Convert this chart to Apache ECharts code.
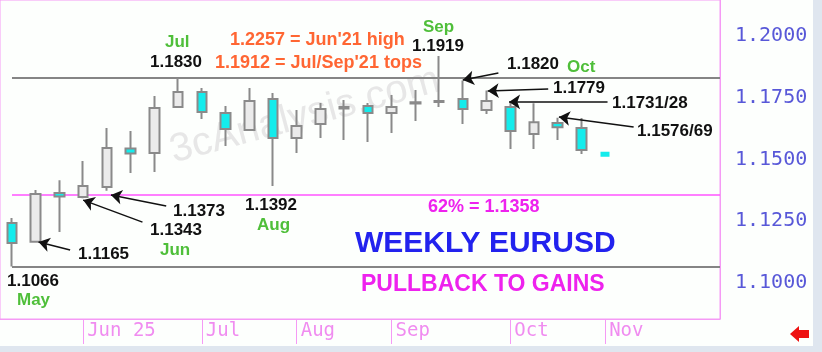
<!DOCTYPE html>
<html><head><meta charset="utf-8">
<script src="https://cdn.jsdelivr.net/npm/echarts@6/dist/echarts.min.js"></script>
<style>html,body{margin:0;padding:0;background:#fdfffd;}#c{width:822px;height:352px;}</style>
</head><body><div id="c"></div>
<script>
// Weekly candles (week start), 2025
const weeks = ['May 12','May 19','May 26','Jun 2','Jun 9','Jun 16','Jun 23','Jun 30','Jul 7','Jul 14','Jul 21','Jul 28','Aug 4','Aug 11','Aug 18','Aug 25','Sep 1','Sep 8','Sep 15','Sep 22','Sep 29','Oct 6','Oct 13','Oct 20','Oct 27','Nov 3'];
const openV  = [1.1242,1.1166,1.1364,1.1348,1.1388,1.1544,1.1526,1.1712,1.1773,1.1688,1.1619,1.1745,1.1587,1.1643,1.1706,1.1716,1.1688,1.1727,1.1733,1.1745,1.1700,1.1712,1.1603,1.1648,1.1627,1.1531];
const closeV = [1.1161,1.1360,1.1350,1.1392,1.1546,1.1524,1.1708,1.1773,1.1692,1.1623,1.1737,1.1587,1.1635,1.1704,1.1712,1.1688,1.1712,1.1732,1.1737,1.1704,1.1737,1.1615,1.1651,1.1630,1.1538,1.1511];
const lowV   = [1.1066,1.1165,1.1206,1.1343,1.1373,1.1445,1.1449,1.1710,1.1664,1.1554,1.1615,1.1392,1.1526,1.1587,1.1579,1.1571,1.1607,1.1656,1.1712,1.1643,1.1684,1.1542,1.1542,1.1579,1.1522,1.1511];
const highV  = [1.1263,1.1376,1.1416,1.1494,1.1627,1.1615,1.1757,1.1830,1.1789,1.1716,1.1789,1.1769,1.1700,1.1729,1.1741,1.1729,1.1761,1.1781,1.1919,1.1820,1.1779,1.1731,1.1728,1.1669,1.1668,1.1546];
// month ticks (index of first week starting in month)
const monthTickIdx = [3,8,12,16,21,25];
const monthTickLabels = ['Jun 25','Jul','Aug','Sep','Oct','Nov'];
const priceTicks = [1.1000,1.1250,1.1500,1.1750,1.2000];
// horizontal levels
const resistance = 1.1830, support = 1.1066, fib62 = 1.1358;

const X_MIN = -0.505, X_MAX = 29.84;
const cyan = '#14ecec', grey = '#8a8a8a', pink = '#f59af5';

const candleData = weeks.map((w,i)=>{
  const item = {value:[i, openV[i], closeV[i], lowV[i], highV[i]]};
  if (i === weeks.length-1) item.itemStyle = {color0: cyan, borderColor0: cyan, borderWidth: 0};
  return item;
});

// arrows: target candle + field, tip offset and tail offset (layout, in axis units)
const arrows = [
  {i:1,  f:'low',  tip:[0.12, 0],      tail:[1.45,-0.0032]},
  {i:3,  f:'low',  tip:[0.0,-0.0008],  tail:[2.5,-0.0097]},
  {i:4,  f:'low',  tip:[0.17,-0.0017], tail:[2.5,-0.0062]},
  {i:19, f:'high', tip:[0.0, 0.0002],  tail:[1.5, 0.0030]},
  {i:20, f:'high', tip:[0.05,-0.0002], tail:[2.6, 0.0006]},
  {i:21, f:'high', tip:[-0.05,0.0002], tail:[4.1, 0.0002]},
  {i:23, f:'high', tip:[0.05, 0.0003], tail:[3.2,-0.0038]}
];
const arrowLines = arrows.map(a=>{
  const v = a.f==='low' ? lowV[a.i] : highV[a.i];
  return [{coord:[a.i+a.tail[0], v+a.tail[1]]},{coord:[a.i+a.tip[0], v+a.tip[1]]}];
});

function txt(x,y,text,color,size,extra){
  return Object.assign({type:'text', x:x, y:y, z:100, style:{text:text, fill:color, font:'bold '+size+'px "Liberation Sans", Arial, sans-serif', textVerticalAlign:'middle'}}, extra||{});
}
const black='#111111', green='#4fbf3a', orange='#ff6633', magenta='#ee22ee';

const chart = echarts.init(document.getElementById('c'), null, {renderer:'canvas'});
chart.setOption({
  animation:false,
  backgroundColor:'#fdfffd',
  grid:{left:-1, right:102, top:0, bottom:33, show:true, borderColor:pink, borderWidth:1, backgroundColor:'transparent'},
  xAxis:{type:'value', min:X_MIN, max:X_MAX, splitLine:{show:false},
    axisLine:{show:true, onZero:false, lineStyle:{color:pink, width:1}},
    axisTick:{show:true, customValues:monthTickIdx, length:25, lineStyle:{color:pink, width:1}},
    axisLabel:{show:true, customValues:monthTickIdx, align:'left', margin:3, padding:[0,0,0,4],
      color:'#f08cf0', fontFamily:'"DejaVu Sans Mono", monospace', fontSize:19,
      formatter:(v)=>{const k=monthTickIdx.indexOf(Math.round(v)); return k>=0?monthTickLabels[k]:'';}}
  },
  yAxis:{type:'value', position:'right', min:1.08533, max:1.21459, scale:true, splitLine:{show:false},
    axisLine:{show:true, onZero:false, lineStyle:{color:pink}},
    axisTick:{show:false, customValues:priceTicks},
    axisLabel:{customValues:priceTicks, margin:15, color:'#5858d8', fontFamily:'"DejaVu Sans Mono", monospace', fontSize:20,
      formatter:(v)=>v.toFixed(4)}
  },
  graphic:[
    {type:'rect', shape:{x:813, y:0, width:9, height:352}, style:{fill:'#dfe6ef'}, z:1},
    {type:'rect', shape:{x:0, y:346, width:822, height:6}, style:{fill:'#dfe6ef'}, z:1},
    {type:'text', x:305, y:116, rotation:15*Math.PI/180, z:0, style:{text:'3cAnalysis.com', fill:'#e7e7e7', font:'40px "Liberation Sans", Arial, sans-serif', textAlign:'center', textVerticalAlign:'middle'}},
    {type:'polygon', z:100, shape:{points:[[790,334],[799,326],[799,330],[809,330],[809,338],[799,338],[799,342]]}, style:{fill:'#ee1111'}},
    txt(7,281,'1.1066',black,17),
    txt(17,300,'May',green,17),
    txt(78,254,'1.1165',black,17),
    txt(150,230,'1.1343',black,17),
    txt(160,250,'Jun',green,17),
    txt(173,211,'1.1373',black,17),
    txt(245,205,'1.1392',black,17),
    txt(257,225,'Aug',green,17),
    txt(165,42,'Jul',green,17),
    txt(150,62,'1.1830',black,17),
    txt(230,40,"1.2257 = Jun'21 high",orange,18),
    txt(215,63,"1.1912 = Jul/Sep'21 tops",orange,18),
    txt(423,27,'Sep',green,17),
    txt(412,46,'1.1919',black,17),
    txt(507,64,'1.1820',black,17),
    txt(567,67,'Oct',green,17),
    txt(553,88,'1.1779',black,17),
    txt(612,103,'1.1731/28',black,17),
    txt(637,131,'1.1576/69',black,17),
    txt(428,207,'62% = 1.1358',magenta,18),
    txt(355,244,'WEEKLY EURUSD','#2222ee',30),
    txt(361,285,'PULLBACK TO GAINS',magenta,23)
  ],
  series:[
    {type:'candlestick', data:candleData, encode:{x:0, y:[1,2,3,4]}, barWidth:10, z:5,
      itemStyle:{color:'#ebebeb', color0:cyan, borderColor:grey, borderColor0:grey, borderWidth:2},
      markLine:{silent:true, symbol:['none','none'], animation:false, z:3,
        label:{show:false},
        data:[
          [{coord:[0,resistance], lineStyle:{color:'#858585', width:2, type:'solid'}},{coord:[X_MAX,resistance]}],
          [{coord:[0,support], lineStyle:{color:'#858585', width:2, type:'solid'}},{coord:[X_MAX,support]}],
          [{coord:[0,fib62], lineStyle:{color:'#ff55ff', width:1.5, type:'solid'}},{coord:[X_MAX,fib62]}]
        ]}
    },
    {type:'line', data:[], markLine:{silent:true, symbol:['none','arrow'], symbolSize:11, animation:false, z:6,
      label:{show:false}, lineStyle:{color:'#111111', width:1.5, type:'solid'},
      data:arrowLines}}
  ]
});
</script></body></html>
